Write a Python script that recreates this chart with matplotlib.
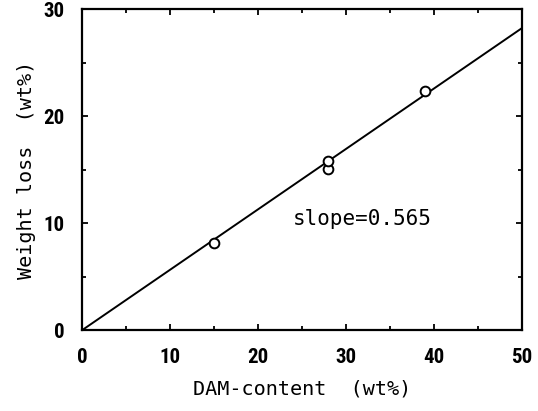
import numpy as np
import matplotlib
matplotlib.use("Agg")
import matplotlib.pyplot as plt
from matplotlib.ticker import MultipleLocator

# measured points (DAM content vs weight loss)
dam = [15, 28, 28, 39]
loss = [8.1, 15.1, 15.8, 22.4]
slope = 0.565
x_fit = [0, 50]

fig = plt.figure(figsize=(5.38, 4.11), dpi=100)
ax = fig.add_axes([0.153, 0.197, 0.817, 0.78])

ax.plot(x_fit, [slope * v for v in x_fit], color="black", lw=1.4)
ax.plot(dam, loss, "o", mfc="white", mec="black", ms=7, mew=1.4)

ax.set_xlim(0, 50)
ax.set_ylim(0, 30)
ax.xaxis.set_major_locator(MultipleLocator(10))
ax.xaxis.set_minor_locator(MultipleLocator(5))
ax.yaxis.set_major_locator(MultipleLocator(10))
ax.yaxis.set_minor_locator(MultipleLocator(5))
ax.tick_params(which="both", direction="in", top=True, right=True, width=1.3)
ax.tick_params(which="major", length=4.5, pad=13)
ax.tick_params(which="minor", length=3)
for s in ax.spines.values():
    s.set_linewidth(1.6)

for lab in ax.get_xticklabels() + ax.get_yticklabels():
    lab.set_family(["Roboto Condensed", "DejaVu Sans"])
    lab.set_fontweight("bold")
    lab.set_fontsize(15)

mono = ["DejaVu Sans Mono"]
ax.set_xlabel("DAM-content  (wt%)", family=mono, fontsize=14.5, labelpad=9)
ax.set_ylabel("Weight loss  (wt%)", family=mono, fontsize=14.5, labelpad=5)
ax.text(24, 10.4, "slope=0.565", family=mono, fontsize=15, va="center", ha="left")

fig.savefig("out.png", dpi=100)
